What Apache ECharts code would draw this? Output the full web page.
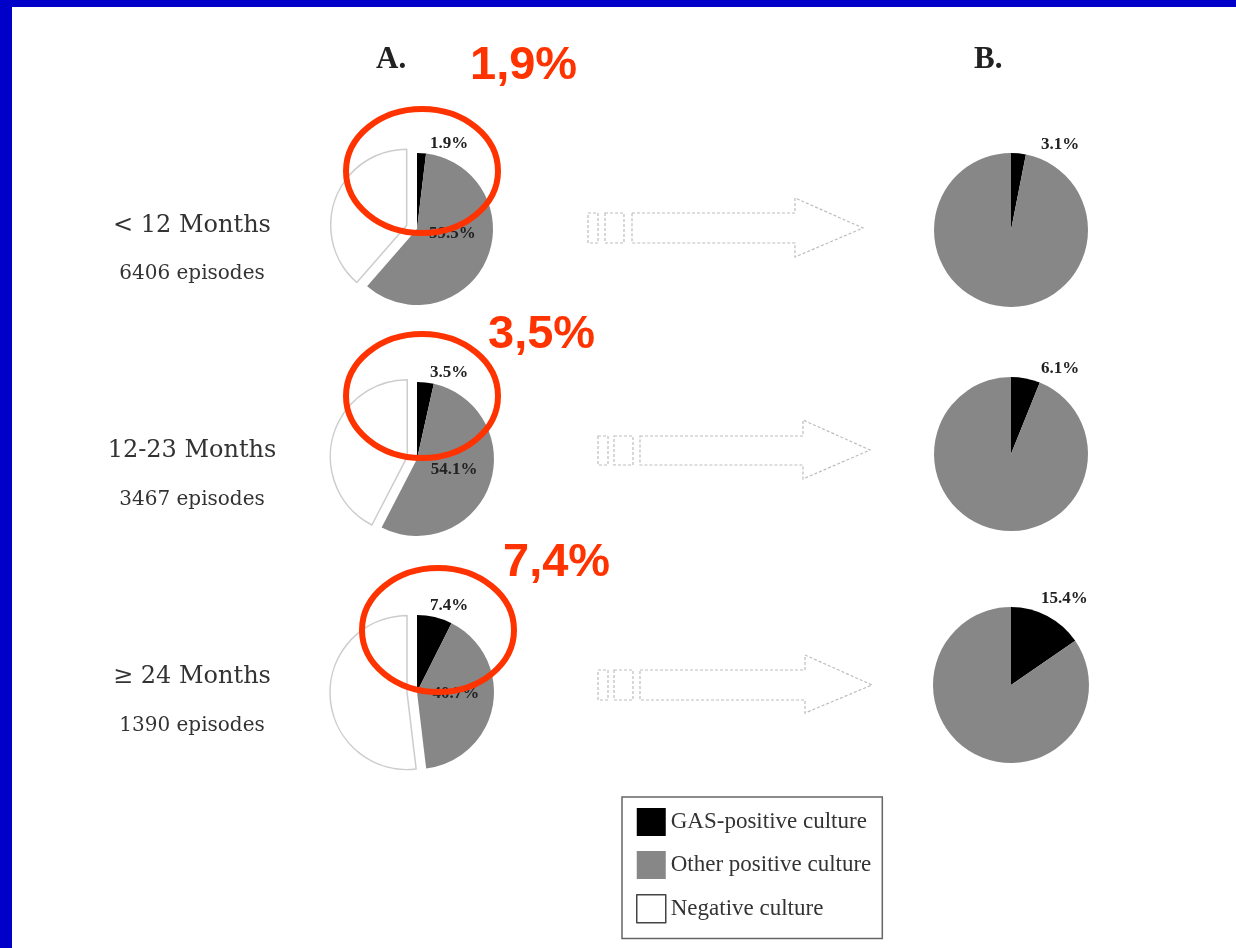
<!DOCTYPE html>
<html>
<head>
<meta charset="utf-8">
<script src="https://cdn.jsdelivr.net/npm/echarts@6/dist/echarts.min.js"></script>
<style>
  html, body { margin: 0; padding: 0; background: #0000c8; }
  #chart { width: 1236px; height: 948px; }
</style>
</head>
<body>
<div id="chart"></div>
<script>
// ---- data ----
const categories = ['GAS-positive culture', 'Other positive culture', 'Negative culture'];
const ageGroups = ['< 12 Months', '12-23 Months', '\u2265 24 Months'];
const episodes = ['6406 episodes', '3467 episodes', '1390 episodes'];
const gasAll = [1.9, 3.5, 7.4];          // panel A, % of all episodes
const otherAll = [59.5, 54.1, 40.7];
const negativeAll = [38.6, 42.4, 51.9];
const gasPositive = [3.1, 6.1, 15.4];    // panel B, % of positive cultures
const otherPositive = [96.9, 93.9, 84.6];
const highlights = ['1,9%', '3,5%', '7,4%'];
const panelTitles = ['A.', 'B.'];

// ---- layout (styling only) ----
const pieA = [[417, 229, 76, 11], [417, 459, 77, 10], [417, 692, 77, 10]];
const innerLabelOffset = [[-2, -12], [-2, -4], [-2, -6]];
const pieB = [[1011, 230, 77], [1011, 454, 77], [1011, 685, 78]];
const rowLabelY = [[226, 274], [451, 500], [677, 726]];
const highlightPos = [[470, 66], [488, 335], [503, 563]];
const ellipses = [[422, 171, 76, 62], [422, 396, 76, 62], [438, 630, 76, 62]];
const arrows = [
  { y0: 213, y1: 243, r1: 588, r2: 605, s: 632, hb: 795, ht: 198, hbm: 257, tip: 863, ty: 228 },
  { y0: 436, y1: 465, r1: 598, r2: 614, s: 640, hb: 803, ht: 420, hbm: 479, tip: 870, ty: 450 },
  { y0: 670, y1: 700, r1: 598, r2: 614, s: 640, hb: 805, ht: 655, hbm: 713, tip: 872, ty: 685 }
];

const COLORS = ['#000000', '#878787', '#ffffff'];
const labelFont = { fontFamily: 'Liberation Serif', fontWeight: 'bold', fontSize: 17, color: '#222' };

const series = [];
ageGroups.forEach((g, i) => {
  const [cx, cy, r, off] = pieA[i];
  series.push({
    type: 'pie', name: 'A ' + g, center: [cx, cy], radius: r,
    startAngle: 90, clockwise: true, avoidLabelOverlap: false,
    selectedMode: 'multiple', selectedOffset: off,
    emphasis: { disabled: true }, animation: false,
    labelLine: { show: false, length: 2, length2: 2 },
    label: Object.assign({ show: false, formatter: '{c}%' }, labelFont),
    select: { itemStyle: { color: '#fff', borderColor: '#cccccc', borderWidth: 1.5 } },
    labelLayout: function (p) {
      if (p.dataIndex !== 0) return {};
      return { x: p.rect.x + 13, y: p.rect.y - 9, align: 'left', verticalAlign: 'middle' };
    },
    data: [
      { name: categories[0], value: gasAll[i], itemStyle: { color: COLORS[0] }, label: { show: true, position: 'outside' } },
      { name: categories[1], value: otherAll[i], itemStyle: { color: COLORS[1] }, label: { show: true, position: 'inside', offset: innerLabelOffset[i] } },
      { name: categories[2], value: negativeAll[i], selected: true, itemStyle: { color: COLORS[2], borderColor: '#cccccc', borderWidth: 1.5 } }
    ]
  });
  const [bx, by, br] = pieB[i];
  series.push({
    type: 'pie', name: 'B ' + g, center: [bx, by], radius: br,
    startAngle: 90, clockwise: true, avoidLabelOverlap: false,
    emphasis: { disabled: true }, animation: false,
    labelLine: { show: false, length: 2, length2: 2 },
    label: Object.assign({ show: false, formatter: '{c}%' }, labelFont),
    labelLayout: function (p) {
      if (p.dataIndex !== 0) return {};
      return { x: p.rect.x + 30, y: p.rect.y - 8, align: 'left', verticalAlign: 'middle' };
    },
    data: [
      { name: categories[0], value: gasPositive[i], itemStyle: { color: COLORS[0] }, label: { show: true, position: 'outside' } },
      { name: categories[1], value: otherPositive[i], itemStyle: { color: COLORS[1] } }
    ]
  });
});

const graphics = [
  { type: 'rect', z: -10, shape: { x: 12, y: 7, width: 1224, height: 941 }, style: { fill: '#ffffff' } },
  { type: 'text', z: 10, style: { text: panelTitles[0], x: 376, y: 60, font: 'bold 31px "Liberation Serif"', fill: '#222', verticalAlign: 'middle' } },
  { type: 'text', z: 10, style: { text: panelTitles[1], x: 974, y: 60, font: 'bold 31px "Liberation Serif"', fill: '#222', verticalAlign: 'middle' } }
];
ageGroups.forEach((g, i) => {
  graphics.push({ type: 'text', z: 10, style: { text: g, x: 192, y: rowLabelY[i][0], font: '24px "DejaVu Serif"', fill: '#333', align: 'center', verticalAlign: 'middle' } });
  graphics.push({ type: 'text', z: 10, style: { text: episodes[i], x: 192, y: rowLabelY[i][1], font: '20px "DejaVu Serif"', fill: '#333', align: 'center', verticalAlign: 'middle' } });
});
const arrowStyle = { fill: 'none', stroke: '#bdbdbd', lineWidth: 1.2, lineDash: [3, 2] };
arrows.forEach(a => {
  const h = a.y1 - a.y0;
  graphics.push({ type: 'rect', z: 5, shape: { x: a.r1, y: a.y0, width: 10, height: h }, style: arrowStyle });
  graphics.push({ type: 'rect', z: 5, shape: { x: a.r2, y: a.y0, width: 19, height: h }, style: arrowStyle });
  graphics.push({ type: 'polygon', z: 5, shape: { points: [[a.s, a.y0], [a.hb, a.y0], [a.hb, a.ht], [a.tip, a.ty], [a.hb, a.hbm], [a.hb, a.y1], [a.s, a.y1]] }, style: arrowStyle });
});
ellipses.forEach(e => {
  graphics.push({ type: 'ellipse', z: 100, shape: { cx: e[0], cy: e[1], rx: e[2], ry: e[3] }, style: { fill: 'none', stroke: '#ff3300', lineWidth: 6 } });
});
highlights.forEach((t, i) => {
  graphics.push({ type: 'text', z: 100, style: { text: t, x: highlightPos[i][0], y: highlightPos[i][1], font: 'bold 47px "Liberation Sans"', fill: '#ff3300', verticalAlign: 'middle' } });
});

const chart = echarts.init(document.getElementById('chart'), null, { renderer: 'canvas' });
chart.setOption({
  backgroundColor: '#0000c8',
  animation: false,
  legend: {
    orient: 'vertical', left: 622, top: 797,
    selectedMode: false,
    borderColor: '#666', borderWidth: 1.5, backgroundColor: '#fff',
    padding: [11, 11, 15, 14], itemGap: 15, itemWidth: 29, itemHeight: 28,
    icon: 'rect',
    textStyle: { fontFamily: 'Liberation Serif', fontSize: 23, color: '#333' },
    data: [
      { name: categories[0], itemStyle: { color: '#000', borderWidth: 0 } },
      { name: categories[1], itemStyle: { color: '#878787', borderWidth: 0 } },
      { name: categories[2], itemStyle: { color: '#fff', borderColor: '#444', borderWidth: 1.5 } }
    ]
  },
  graphic: { elements: graphics },
  series: series
});
</script>
</body>
</html>
